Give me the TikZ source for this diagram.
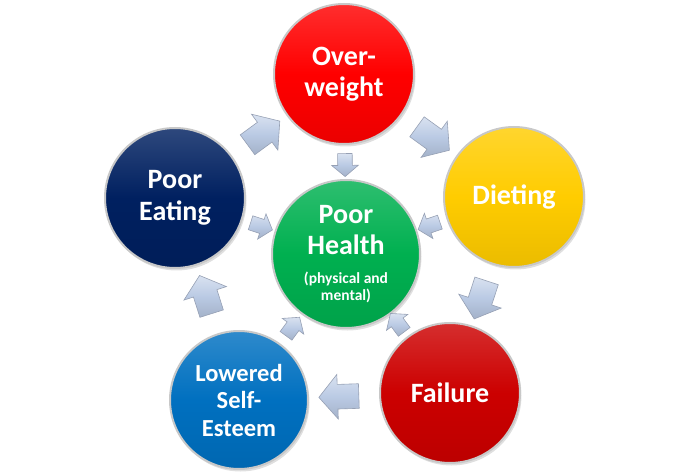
\documentclass[tikz,border=0pt]{standalone}
\usepackage{fontspec}
\setmainfont{Carlito}
\usepackage{tikz}
\usetikzlibrary{shapes.arrows,shadows}
\definecolor{overred}{RGB}{255,0,0}
\definecolor{dietyellow}{RGB}{255,204,0}
\definecolor{failred}{RGB}{204,0,0}
\definecolor{selfblue}{RGB}{0,112,192}
\definecolor{eatnavy}{RGB}{0,32,96}
\definecolor{healthgreen}{RGB}{0,176,80}
\definecolor{ringgray}{RGB}{200,200,200}
\definecolor{arrowfill}{RGB}{186,202,228}
\definecolor{arrowedge}{RGB}{150,160,180}

\begin{document}
\begin{tikzpicture}[x=1pt,y=-1pt,
  ball/.style={circle,draw=ringgray,line width=2pt,minimum size=140pt,inner sep=0pt,
    top color=#1!82!white,bottom color=#1!92!black,middle color=#1,
    text=white,font=\bfseries\fontsize{28}{31.5}\selectfont,align=center,
    drop shadow={shadow xshift=1.5pt,shadow yshift=-2.5pt,opacity=.25}},
  bigarrow/.style={single arrow,sloped,allow upside down,draw=arrowedge,line width=.6pt,
    top color=arrowfill!55!white,bottom color=arrowfill!88!black,middle color=arrowfill,
    minimum height=40pt,minimum width=0pt,inner xsep=0pt,inner ysep=12pt,
    single arrow head extend=10pt,single arrow tip angle=100},
  smallarrow/.style={bigarrow,minimum height=23pt,inner ysep=7pt,single arrow head extend=6pt}]
\useasboundingbox (0,0) rectangle (689,476);

\node[ball=overred] (over) at (344,74) {Over-\\weight};
\node[ball=dietyellow] (diet) at (514,197) {Dieting};
\node[ball=failred] (fail) at (450,393) {Failure};
\node[ball=selfblue,minimum size=138pt,font=\bfseries\fontsize{24.5}{27.5}\selectfont] (self) at (239,400) {Lowered\\Self-\\Esteem};
\node[ball=eatnavy] (eat) at (175,198) {Poor\\Eating};
\node[ball=healthgreen,minimum size=148pt] (health) at (346,254)
  {Poor\\Health\\[-2.5pt]\fontsize{15.5}{17.5}\selectfont(physical and\\[-14.5pt]\fontsize{15.5}{17.5}\selectfont mental)};

% cycle
\path (eat) -- node[bigarrow]{} (over);
\path (over) -- node[bigarrow]{} (diet);
\path (diet) -- node[bigarrow]{} (fail);
\path (fail) -- node[bigarrow]{} (self);
\path (self) -- node[bigarrow]{} (eat);

% into the middle
\path (over) -- node[smallarrow]{} (health);
\path (diet) -- node[smallarrow]{} (health);
\path (fail) -- node[smallarrow]{} (health);
\path (self) -- node[smallarrow]{} (health);
\path (eat) -- node[smallarrow]{} (health);
\end{tikzpicture}
\end{document}
